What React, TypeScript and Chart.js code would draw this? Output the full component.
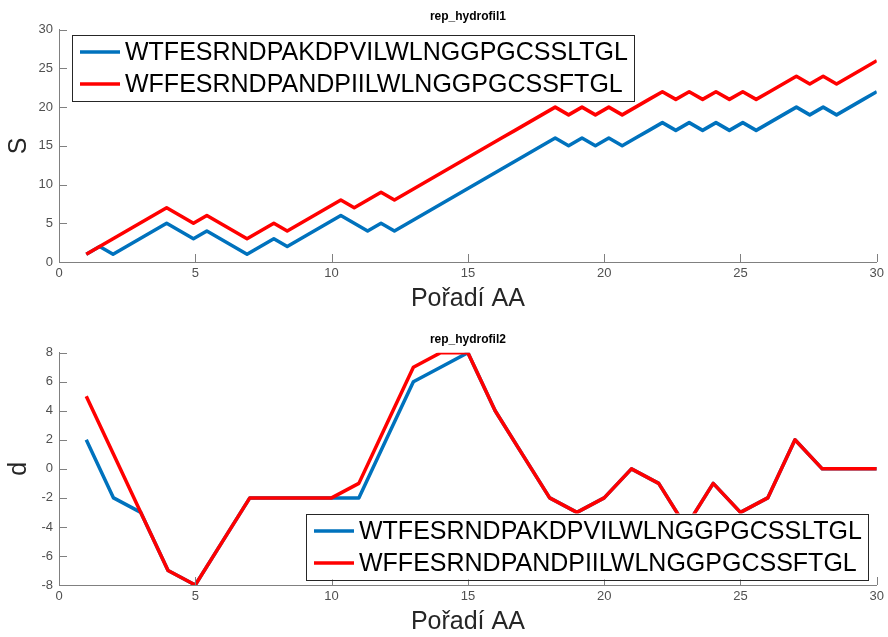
import React, { useEffect, useRef } from "react";
import { Chart, registerables } from "chart.js";

Chart.register(...registerables);

// Peptide sequences compared in both panels
const SEQ_A = "WTFESRNDPAKDPVILWLNGGPGCSSLTGL";
const SEQ_B = "WFFESRNDPANDPIILWLNGGPGCSSFTGL";

// rep_hydrofil1: cumulative profile, 60 samples spread evenly over positions 1..30
const S_A = [
  1, 2, 1, 2, 3, 4, 5, 4, 3, 4, 3, 2, 1, 2, 3, 2, 3, 4, 5, 6,
  5, 4, 5, 4, 5, 6, 7, 8, 9, 10, 11, 12, 13, 14, 15, 16, 15, 16, 15, 16,
  15, 16, 17, 18, 17, 18, 17, 18, 17, 18, 17, 18, 19, 20, 19, 20, 19, 20, 21, 22,
];
const S_B = [
  1, 2, 3, 4, 5, 6, 7, 6, 5, 6, 5, 4, 3, 4, 5, 4, 5, 6, 7, 8,
  7, 8, 9, 8, 9, 10, 11, 12, 13, 14, 15, 16, 17, 18, 19, 20, 19, 20, 19, 20,
  19, 20, 21, 22, 21, 22, 21, 22, 21, 22, 21, 22, 23, 24, 23, 24, 23, 24, 25, 26,
];
const S_FIRST = 1;
const S_LAST = 30;

// rep_hydrofil2: per-position profile
const POSITIONS = [
  1, 2, 3, 4, 5, 6, 7, 8, 9, 10, 11, 12, 13, 14, 15,
  16, 17, 18, 19, 20, 21, 22, 23, 24, 25, 26, 27, 28, 29, 30,
];
const D_A = [
  2, -2, -3, -7, -8, -5, -2, -2, -2, -2, -2, 2, 6, 7, 8,
  4, 1, -2, -3, -2, 0, -1, -4, -1, -3, -2, 2, 0, 0, 0,
];
const D_B = [
  5, 1, -3, -7, -8, -5, -2, -2, -2, -2, -1, 3, 7, 8, 8,
  4, 1, -2, -3, -2, 0, -1, -4, -1, -3, -2, 2, 0, 0, 0,
];

// Axis ticks
const X_TICKS = [0, 5, 10, 15, 20, 25, 30];
const S_TICKS = [0, 5, 10, 15, 20, 25, 30];
const D_TICKS = [-8, -6, -4, -2, 0, 2, 4, 6, 8];

const BLUE = "#0072BD";
const RED = "#FF0000";
const FONT = "'Liberation Sans', Arial, Helvetica, sans-serif";
const W = 888;
const H = 637;

const sampleX = (n: number, i: number) =>
  S_FIRST + ((S_LAST - S_FIRST) * i) / (n - 1);

// Inward tick marks on the left/bottom axes plus the bold panel title
const axesDecor = {
  id: "axesDecor",
  afterDatasetsDraw(chart: any, _args: any, opts: any) {
    const { ctx, chartArea } = chart;
    const xs = chart.scales.x;
    const ys = chart.scales.y;
    ctx.save();
    ctx.strokeStyle = opts.color;
    ctx.lineWidth = 1;
    ctx.beginPath();
    for (const t of xs.ticks) {
      const px = Math.round(xs.getPixelForValue(t.value)) + 0.5;
      ctx.moveTo(px, chartArea.bottom);
      ctx.lineTo(px, chartArea.bottom - opts.len);
    }
    for (const t of ys.ticks) {
      const py = Math.round(ys.getPixelForValue(t.value)) + 0.5;
      ctx.moveTo(chartArea.left, py);
      ctx.lineTo(chartArea.left + opts.len, py);
    }
    ctx.stroke();
    ctx.fillStyle = "#000";
    ctx.font = `bold ${opts.titleSize}px ${FONT}`;
    ctx.textAlign = "center";
    ctx.textBaseline = "middle";
    ctx.fillText(
      opts.title,
      (chartArea.left + chartArea.right) / 2,
      chartArea.top - opts.titleGap
    );
    ctx.restore();
  },
};

// Boxed legend placed inside the plot
const boxLegend = {
  id: "boxLegend",
  afterDraw(chart: any, _args: any, opts: any) {
    const { ctx } = chart;
    const sets = chart.data.datasets;
    ctx.save();
    ctx.font = `${opts.fontSize}px ${FONT}`;
    const tw = Math.max(...sets.map((d: any) => ctx.measureText(d.label).width));
    const w = opts.padL + opts.sample + opts.gap + tw + opts.padR;
    ctx.fillStyle = "#fff";
    ctx.fillRect(opts.left, opts.top, w, opts.height);
    ctx.strokeStyle = "#262626";
    ctx.lineWidth = 1;
    ctx.strokeRect(
      Math.round(opts.left) + 0.5,
      Math.round(opts.top) + 0.5,
      Math.round(w),
      Math.round(opts.height)
    );
    sets.forEach((d: any, i: number) => {
      const y = opts.top + opts.rows[i];
      ctx.strokeStyle = d.borderColor;
      ctx.lineWidth = d.borderWidth;
      ctx.beginPath();
      ctx.moveTo(opts.left + opts.padL, y);
      ctx.lineTo(opts.left + opts.padL + opts.sample, y);
      ctx.stroke();
      ctx.fillStyle = "#000";
      ctx.textAlign = "left";
      ctx.textBaseline = "middle";
      ctx.fillText(d.label, opts.left + opts.padL + opts.sample + opts.gap, y + 1);
    });
    ctx.restore();
  },
};

type PanelSpec = {
  title: string;
  yTitle: string;
  yMin: number;
  yMax: number;
  yTicks: number[];
  areaTop: number;
  areaBottom: number;
  series: { label: string; color: string; points: { x: number; y: number }[] }[];
  legend: { left: number; top: number };
};

function buildConfig(p: PanelSpec): any {
  const tickFont = { family: FONT, size: 13 };
  const titleFont = { family: FONT, size: 25, lineHeight: 1 };
  return {
    type: "line",
    data: {
      // the second series is painted over the first
      datasets: p.series.map((s, i) => ({
        label: s.label,
        data: s.points,
        order: p.series.length - i,
        borderColor: s.color,
        backgroundColor: s.color,
        borderWidth: 3.5,
        pointRadius: 0,
        fill: false,
        tension: 0,
        borderJoinStyle: "round",
        borderCapStyle: "butt",
      })),
    },
    options: {
      responsive: false,
      animation: false,
      devicePixelRatio: 1,
      events: [],
      layout: {
        padding: {
          left: 0,
          right: W - 880,
          top: p.areaTop,
          bottom: H - p.areaBottom - 50,
        },
      },
      scales: {
        x: {
          type: "linear",
          min: 0,
          max: 30,
          afterBuildTicks: (s: any) => {
            s.ticks = X_TICKS.map((v) => ({ value: v }));
          },
          afterFit: (s: any) => {
            s.height = 50;
          },
          grid: { display: false, drawTicks: false },
          border: { display: true, color: "#808080", width: 1 },
          ticks: { font: tickFont, color: "#505050", padding: 4, maxRotation: 0 },
          title: {
            display: true,
            text: "Pořadí AA",
            font: titleFont,
            color: "#262626",
            padding: { top: 0, bottom: 0 },
          },
        },
        y: {
          type: "linear",
          min: p.yMin,
          max: p.yMax,
          afterBuildTicks: (s: any) => {
            s.ticks = p.yTicks.map((v) => ({ value: v }));
          },
          afterFit: (s: any) => {
            s.width = 59;
          },
          grid: { display: false, drawTicks: false },
          border: { display: true, color: "#808080", width: 1 },
          ticks: { font: tickFont, color: "#505050", padding: 6 },
          title: {
            display: true,
            text: p.yTitle,
            font: titleFont,
            color: "#262626",
            padding: { top: 7, bottom: 0 },
          },
        },
      },
      plugins: {
        legend: { display: false },
        tooltip: { enabled: false },
        axesDecor: {
          color: "#808080",
          len: 8,
          title: p.title,
          titleSize: 12,
          titleGap: 13,
        },
        boxLegend: {
          left: p.legend.left,
          top: p.legend.top,
          height: 66,
          rows: [17.5, 49.5],
          padL: 8.5,
          sample: 40,
          gap: 5,
          padR: 6,
          fontSize: 25,
        },
      },
    },
    plugins: [axesDecor, boxLegend],
  };
}

function Panel({ spec }: { spec: PanelSpec }) {
  const ref = useRef<HTMLCanvasElement | null>(null);
  useEffect(() => {
    if (!ref.current) return;
    const chart = new Chart(ref.current, buildConfig(spec));
    return () => chart.destroy();
  }, [spec]);
  return (
    <canvas
      ref={ref}
      width={W}
      height={H}
      style={{ position: "absolute", left: 0, top: 0, width: W, height: H }}
    />
  );
}

const topSpec: PanelSpec = {
  title: "rep_hydrofil1",
  yTitle: "S",
  yMin: 0,
  yMax: 30,
  yTicks: S_TICKS,
  areaTop: 29.7,
  areaBottom: 262,
  series: [
    { label: SEQ_A, color: BLUE, points: S_A.map((v, i) => ({ x: sampleX(S_A.length, i), y: v })) },
    { label: SEQ_B, color: RED, points: S_B.map((v, i) => ({ x: sampleX(S_B.length, i), y: v })) },
  ],
  legend: { left: 71.5, top: 34.5 },
};

const bottomSpec: PanelSpec = {
  title: "rep_hydrofil2",
  yTitle: "d",
  yMin: -8,
  yMax: 8,
  yTicks: D_TICKS,
  areaTop: 352.7,
  areaBottom: 585,
  series: [
    { label: SEQ_A, color: BLUE, points: D_A.map((v, i) => ({ x: POSITIONS[i], y: v })) },
    { label: SEQ_B, color: RED, points: D_B.map((v, i) => ({ x: POSITIONS[i], y: v })) },
  ],
  legend: { left: 305.5, top: 513.5 },
};

export default function App() {
  return (
    <div
      style={{
        position: "fixed",
        left: 0,
        top: 0,
        width: W,
        height: H,
        background: "#fff",
      }}
    >
      <Panel spec={topSpec} />
      <Panel spec={bottomSpec} />
    </div>
  );
}
